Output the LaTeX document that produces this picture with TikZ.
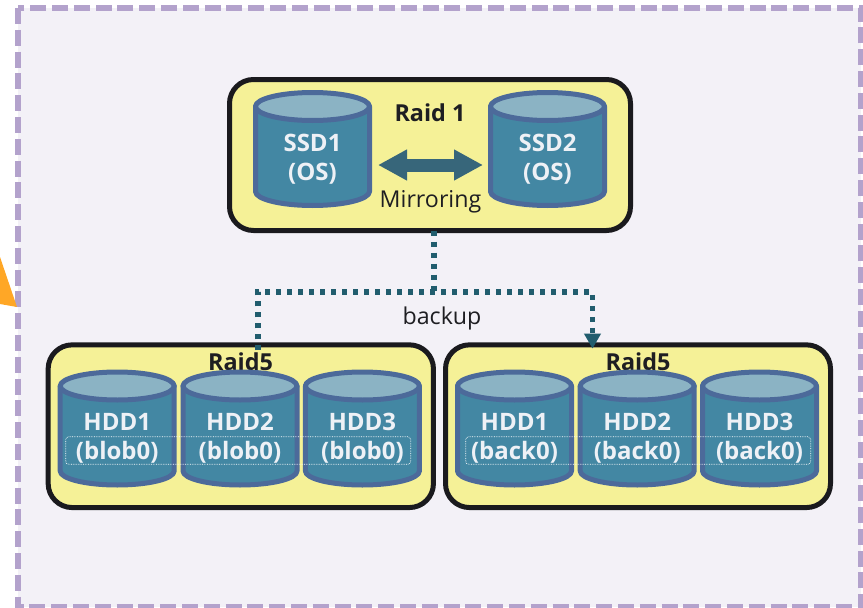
\documentclass[tikz,border=0pt]{standalone}
\usepackage{fontspec}
\setmainfont{Open Sans}
\usetikzlibrary{arrows.meta}
\definecolor{bgpanel}{HTML}{F3F1F7}
\definecolor{panelline}{HTML}{B3A2CC}
\definecolor{raidfill}{HTML}{F5F197}
\definecolor{raidline}{HTML}{1A1A1E}
\definecolor{cylbody}{HTML}{4387A3}
\definecolor{cyltop}{HTML}{8BB3C4}
\definecolor{cylline}{HTML}{4C6A9A}
\definecolor{conn}{HTML}{215D6E}
\definecolor{mirrorc}{HTML}{37667A}
\definecolor{orangec}{HTML}{FFA726}
\definecolor{labelc}{HTML}{EEF1F6}
\definecolor{inkc}{HTML}{1E1E22}
\tikzset{
  raidbox/.style={draw=raidline,fill=raidfill,line width=5pt,rounded corners=24pt,outer sep=0pt,inner sep=0pt},
  cylshape/.style={draw=cylline,line width=5pt,line join=round},
  cyltext/.style={text=labelc,align=center,inner sep=0pt,outer sep=0pt,minimum width=119pt,minimum height=60pt,font=\bfseries\fontsize{24}{29}\selectfont},
  boldlabel/.style={text=inkc,inner sep=0pt,font=\bfseries\fontsize{23.4}{28}\selectfont},
  plainlabel/.style={text=inkc,inner sep=0pt,font=\fontsize{23.2}{28}\selectfont},
  groupbox/.style={draw=white,line width=0.7pt,densely dotted,rounded corners=3pt,minimum width=345pt,minimum height=27.6pt,inner sep=0pt,outer sep=0pt},
  backupline/.style={draw=conn,line width=5.5pt,dash pattern=on 5pt off 6pt},
  mirrorline/.style={draw=mirrorc,line width=13pt,{Triangle[length=29pt,width=29pt]}-{Triangle[length=29pt,width=29pt]}}
}
\newcommand{\cyl}[4]{%
  \begin{scope}[shift={(#2,#3)}]
    \path[cylshape,fill=cylbody] (-57,-42.5) -- (-57,42.5) arc[start angle=180,delta angle=-180,x radius=57,y radius=14] -- (57,-42.5) -- cycle;
    \path[cylshape,fill=cyltop] (0,-42.5) ellipse[x radius=57,y radius=14];
    \node[cyltext] (#1) at (0,10) {#4};
  \end{scope}}
\begin{document}
\begin{tikzpicture}[x=1pt,y=-1pt]
\useasboundingbox (0,0) rectangle (863,608);
\path[fill=white] (0,0) rectangle (863,608);
\path[fill=bgpanel,draw=panelline,line width=5.5pt,dash pattern=on 16pt off 5.8pt] (18,8) rectangle (861,607);
\path[fill=orangec] (0,257) -- (17,307) -- (0,304) -- cycle;

\node[raidbox,minimum width=401pt,minimum height=151pt] (raid1) at (430,155) {};
\node[raidbox,minimum width=385.3pt,minimum height=162.7pt] (blob) at (240.8,426.2) {};
\node[raidbox,minimum width=385pt,minimum height=162.7pt] (back) at (638,426.2) {};

\node[boldlabel] (raid1t) at (430,113) {Raid 1};
\node[boldlabel] (blobt) at (240.5,362) {Raid5};
\node[boldlabel] (backt) at (638,362) {Raid5};

\cyl{ssd1}{312.5}{149}{SSD1\\(OS)}
\cyl{ssd2}{547.5}{149}{SSD2\\(OS)}
\node[plainlabel] (mirror) at (430.5,202) {Mirroring};
\draw[mirrorline] ([shift={(6,6)}]ssd1.east) -- ([shift={(-5,6)}]ssd2.west);

\cyl{bh1}{117.2}{428.5}{HDD1\\(blob0)}
\cyl{bh2}{240}{428.5}{HDD2\\(blob0)}
\cyl{bh3}{362.4}{428.5}{HDD3\\(blob0)}
\cyl{kh1}{514.5}{428.5}{HDD1\\(back0)}
\cyl{kh2}{637.2}{428.5}{HDD2\\(back0)}
\cyl{kh3}{759.5}{428.5}{HDD3\\(back0)}
\node[groupbox] (blobg) at (238.2,450.5) {};
\node[groupbox] (backg) at (638.2,450.5) {};

\coordinate (junction) at (434,292);
\node[plainlabel] (backup) at (442,318) {backup};
\draw[backupline] ([xshift=4pt]raid1.south) -- (junction);
\draw[backupline,-{Triangle[length=15pt,width=16pt]}] ([shift={(17,5.5)}]blob.north) |- (junction) -| ([shift={(-45.5,3.8)}]back.north);
\end{tikzpicture}
\end{document}
